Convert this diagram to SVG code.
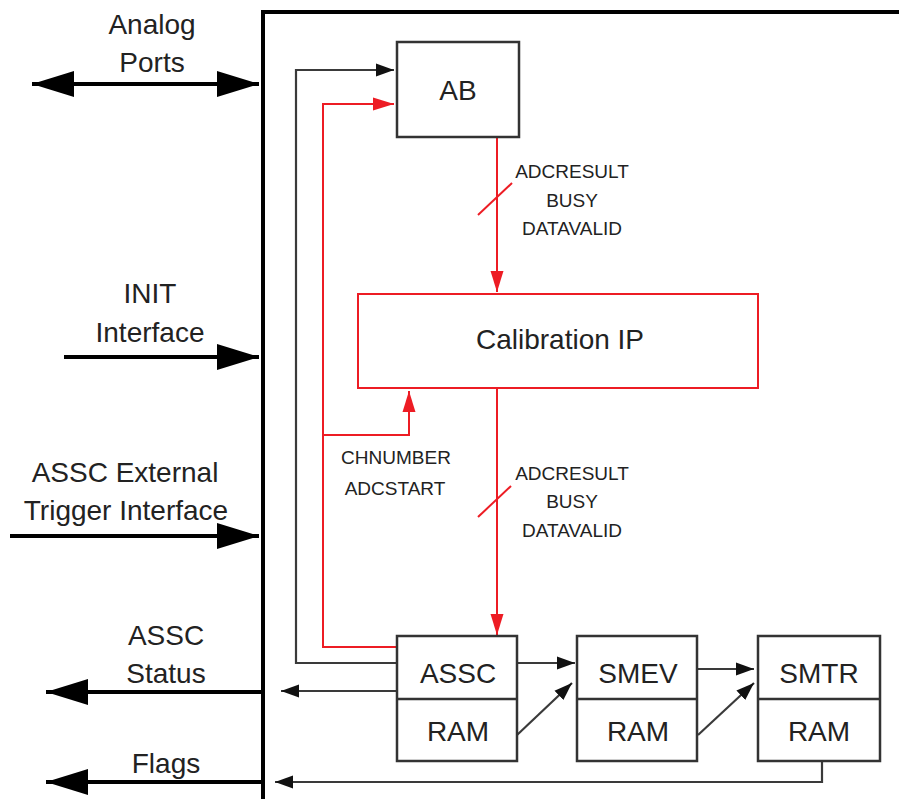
<svg xmlns="http://www.w3.org/2000/svg" width="899" height="799" viewBox="0 0 899 799">
<style>
text{font-family:"Liberation Sans",Arial,sans-serif;fill:#222;text-anchor:middle}
.big{font-size:28px}
.sig{font-size:19px}
.box{fill:#fff;stroke:#333;stroke-width:2.5}
.redbox{fill:#fff;stroke:#ed1c24;stroke-width:2}
.ext{stroke:#000;stroke-width:4;fill:none}
.gl{stroke:#3a3a3a;stroke-width:2.2;fill:none}
.rl{stroke:#ed1c24;stroke-width:2;fill:none}
</style>
<defs>
<marker id="bigA" markerUnits="userSpaceOnUse" markerWidth="44" markerHeight="28" viewBox="0 0 44 28" refX="42" refY="14" orient="auto-start-reverse"><polygon points="0,1 42,14 0,27" fill="#000"/></marker>
<marker id="smA" markerUnits="userSpaceOnUse" markerWidth="19" markerHeight="16" viewBox="0 0 19 16" refX="18" refY="8" orient="auto-start-reverse"><polygon points="0,1.5 18,8 0,14.5" fill="#111"/></marker>
<marker id="redA" markerUnits="userSpaceOnUse" markerWidth="22" markerHeight="16" viewBox="0 0 22 16" refX="21" refY="8" orient="auto"><polygon points="0,1.5 21,8 0,14.5" fill="#ed1c24"/></marker>
</defs>
<g id="boundary">
<path d="M263,799 V12 H899" stroke="#000" stroke-width="4" fill="none"/>
</g>
<g id="external-labels">
<text class="big" x="152" y="34">Analog</text>
<text class="big" x="152" y="72">Ports</text>
<text class="big" x="150" y="303">INIT</text>
<text class="big" x="150" y="342">Interface</text>
<text class="big" x="125" y="482">ASSC External</text>
<text class="big" x="126" y="520">Trigger Interface</text>
<text class="big" x="166" y="645">ASSC</text>
<text class="big" x="166" y="683">Status</text>
<text class="big" x="166" y="773">Flags</text>
</g>
<g id="connectors">
<line class="ext" x1="32" y1="84" x2="259" y2="84" marker-start="url(#bigA)" marker-end="url(#bigA)"/>
<line class="ext" x1="64" y1="357" x2="259" y2="357" marker-end="url(#bigA)"/>
<line class="ext" x1="10" y1="536" x2="259" y2="536" marker-end="url(#bigA)"/>
<line class="ext" x1="263" y1="692" x2="46" y2="692" marker-end="url(#bigA)"/>
<line class="ext" x1="263" y1="782" x2="46" y2="782" marker-end="url(#bigA)"/>
<path class="gl" d="M398,663 H296 V70 H394" marker-end="url(#smA)"/>
<path class="rl" d="M398,647 H323 V104 H394" marker-end="url(#redA)"/>
<path class="rl" d="M323,435 H409 V391" marker-end="url(#redA)"/>
<line class="rl" x1="497" y1="137" x2="497" y2="292" marker-end="url(#redA)"/>
<line class="rl" x1="478" y1="215" x2="512" y2="183"/>
<line class="rl" x1="497" y1="389" x2="497" y2="635" marker-end="url(#redA)"/>
<line class="rl" x1="478" y1="517" x2="511" y2="486"/>
<line class="gl" x1="518" y1="663" x2="575" y2="663" marker-end="url(#smA)"/>
<line class="gl" x1="698" y1="669" x2="754" y2="669" marker-end="url(#smA)"/>
<line class="gl" x1="517" y1="735" x2="572" y2="683" marker-end="url(#smA)"/>
<line class="gl" x1="698" y1="735" x2="754" y2="683" marker-end="url(#smA)"/>
<line class="gl" x1="397" y1="691" x2="281" y2="691" marker-end="url(#smA)"/>
<path class="gl" d="M822,762 V782 H275" marker-end="url(#smA)"/>
<text class="sig" x="572" y="178">ADCRESULT</text>
<text class="sig" x="572" y="207">BUSY</text>
<text class="sig" x="572" y="235">DATAVALID</text>
<text class="sig" x="572" y="480">ADCRESULT</text>
<text class="sig" x="572" y="508">BUSY</text>
<text class="sig" x="572" y="537">DATAVALID</text>
<text class="sig" x="396" y="464">CHNUMBER</text>
<text class="sig" x="395" y="495">ADCSTART</text>
</g>
<g id="AB">
<rect class="box" x="397" y="42" width="122" height="95" stroke="#444" stroke-width="3"/>
<text class="big" x="458" y="100">AB</text>
</g>
<g id="calibration-ip">
<rect class="redbox" x="358" y="294" width="400" height="94"/>
<text class="big" x="560" y="349">Calibration IP</text>
</g>
<g id="ASSC">
<rect class="box" x="397" y="636" width="120" height="125"/>
<line class="box" x1="397" y1="699" x2="517" y2="699"/>
<text class="big" x="458" y="683">ASSC</text>
<text class="big" x="458" y="741">RAM</text>
</g>
<g id="SMEV">
<rect class="box" x="577" y="636" width="120" height="125"/>
<line class="box" x1="577" y1="699" x2="697" y2="699"/>
<text class="big" x="638" y="683">SMEV</text>
<text class="big" x="638" y="741">RAM</text>
</g>
<g id="SMTR">
<rect class="box" x="758" y="636" width="122" height="125"/>
<line class="box" x1="758" y1="699" x2="880" y2="699"/>
<text class="big" x="819" y="683">SMTR</text>
<text class="big" x="819" y="741">RAM</text>
</g>
</svg>
